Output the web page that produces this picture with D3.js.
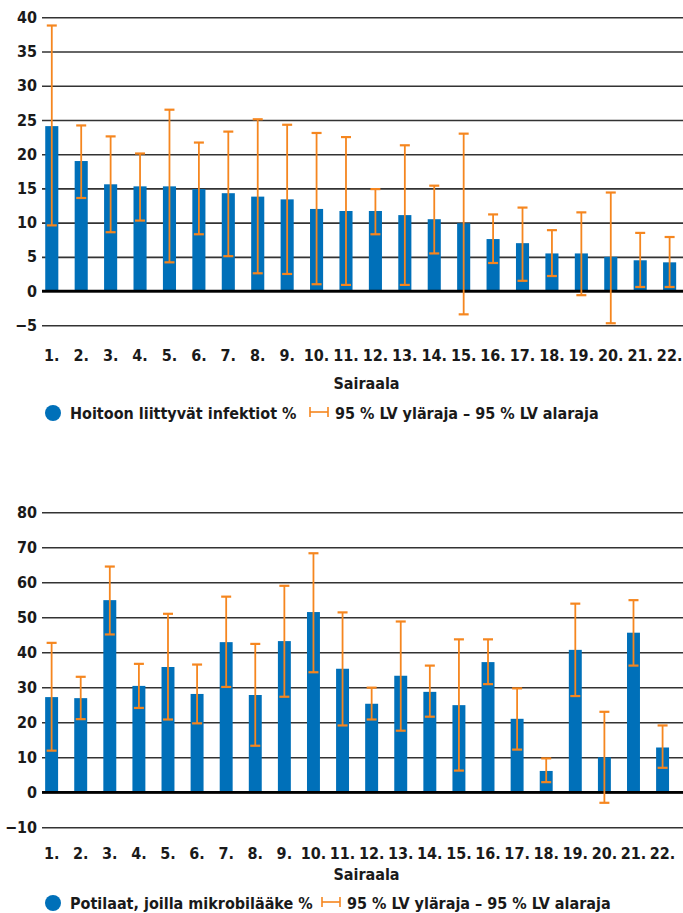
<!DOCTYPE html>
<html>
<head>
<meta charset="utf-8">
<script src="https://cdn.jsdelivr.net/npm/d3@7"></script>
<style>
	body { margin: 0; background: #fff; }
	svg text { font-family: "Liberation Sans Narrow", "Arial Narrow", "DejaVu Sans Condensed", sans-serif; font-weight: bold; font-size: 16px; fill: #1a1a1a; }
</style>
</head>
<body>
<div id="chart"></div>
<script>

// Hospitals 1.-22.
const hospitals = d3.range(1, 23).map(d => d + ".");

// Chart 1: care-associated infections %
const infectionValues = [24.1, 19.0, 15.6, 15.3, 15.3, 14.9, 14.3, 13.8, 13.4, 12.0, 11.7, 11.7, 11.1, 10.5, 9.9, 7.6, 7.0, 5.5, 5.5, 5.0, 4.5, 4.2];
const infectionUpper = [38.8, 24.2, 22.6, 20.1, 26.5, 21.7, 23.3, 25.1, 24.3, 23.1, 22.5, 14.9, 21.3, 15.4, 23.0, 11.2, 12.2, 8.9, 11.5, 14.4, 8.5, 7.9];
const infectionLower = [9.6, 13.6, 8.6, 10.3, 4.2, 8.3, 5.1, 2.6, 2.5, 1.0, 0.9, 8.3, 0.9, 5.5, -3.4, 4.1, 1.5, 2.2, -0.6, -4.7, 0.6, 0.6];
const infectionTicks = [-5, 0, 5, 10, 15, 20, 25, 30, 35, 40];

// Chart 2: patients on antimicrobials %
const antimicrobialValues = [27.2, 26.9, 54.9, 30.4, 35.8, 28.1, 42.9, 27.8, 43.2, 51.5, 35.3, 25.3, 33.3, 28.7, 24.9, 37.2, 21.0, 6.1, 40.7, 10.0, 45.6, 12.8];
const antimicrobialUpper = [42.7, 33.0, 64.5, 36.7, 51.0, 36.5, 55.9, 42.4, 59.0, 68.3, 51.4, 29.9, 48.8, 36.2, 43.7, 43.7, 29.7, 9.7, 53.9, 23.0, 54.9, 19.1];
const antimicrobialLower = [11.9, 20.9, 45.1, 24.1, 20.8, 19.7, 30.1, 13.3, 27.3, 34.3, 19.1, 20.8, 17.6, 21.6, 6.2, 30.9, 12.2, 2.9, 27.5, -3.0, 36.2, 7.0];
const antimicrobialTicks = [-10, 0, 10, 20, 30, 40, 50, 60, 70, 80];

const seriesLabels = ["Hoitoon liittyvät infektiot %", "Potilaat, joilla mikrobilääke %"];
const errorLabel = "95 % LV yläraja – 95 % LV alaraja";
const axisTitle = "Sairaala";

const blue = "#0070b9";
const orange = "#f5861f";

const svg = d3.select("#chart").append("svg")
	.attr("width", 683)
	.attr("height", 913);

function drawChart(cfg) {
	let g = svg.append("g");

	let x = d3.scaleBand()
		.domain(hospitals)
		.range([cfg.left, cfg.right])
		.paddingInner(0.555)
		.paddingOuter(0.28);

	let y = d3.scaleLinear()
		.domain(cfg.domain)
		.range([cfg.bottom, cfg.top]);

	// gridlines + y labels
	let yAxis = d3.axisLeft(y)
		.tickValues(cfg.ticks)
		.tickSize(-(683 - cfg.gridLeft))
		.tickPadding(5)
		.tickFormat(d => d < 0 ? "\u2212" + Math.abs(d) : d);

	let ga = g.append("g")
		.attr("transform", "translate(" + cfg.gridLeft + ",0)")
		.call(yAxis);
	ga.select(".domain").remove();
	ga.selectAll(".tick line")
		.attr("stroke", "#333")
		.attr("stroke-width", 1.6);
	ga.selectAll(".tick text")
		.attr("x", -5)
		.attr("fill", "#1a1a1a")
		.style("font-size", "16px");

	let data = hospitals.map((h, i) => ({h: h, v: cfg.values[i], hi: cfg.upper[i], lo: cfg.lower[i]}));

	// bars
	g.selectAll(".bar").data(data).enter().append("rect")
		.attr("class", "bar")
		.attr("x", d => x(d.h))
		.attr("width", x.bandwidth())
		.attr("y", d => y(d.v))
		.attr("height", d => y(0) - y(d.v))
		.attr("fill", blue);

	// zero line
	g.append("line")
		.attr("x1", cfg.gridLeft).attr("x2", 683)
		.attr("y1", y(0)).attr("y2", y(0))
		.attr("stroke", "#000")
		.attr("stroke-width", 2.8);

	// error bars
	let eb = g.selectAll(".err").data(data).enter().append("g")
		.attr("class", "err")
		.attr("stroke", orange)
		.attr("transform", d => "translate(" + (x(d.h) + x.bandwidth() / 2) + ",0)");
	eb.append("line")
		.attr("y1", d => y(d.hi)).attr("y2", d => y(d.lo))
		.attr("stroke-width", 1.8);
	eb.append("line")
		.attr("x1", -5).attr("x2", 5)
		.attr("y1", d => y(d.hi)).attr("y2", d => y(d.hi))
		.attr("stroke-width", 2.2);
	eb.append("line")
		.attr("x1", -5).attr("x2", 5)
		.attr("y1", d => y(d.lo)).attr("y2", d => y(d.lo))
		.attr("stroke-width", 2.2);

	// x labels
	g.selectAll(".xlab").data(hospitals).enter().append("text")
		.attr("class", "xlab")
		.attr("x", d => x(d) + x.bandwidth() / 2)
		.attr("y", cfg.labelY)
		.attr("text-anchor", "middle")
		.text(d => d);

	g.append("text")
		.attr("x", (cfg.gridLeft + 683) / 2 + 4)
		.attr("y", cfg.titleY)
		.attr("text-anchor", "middle")
		.text(axisTitle);

	// legend
	let lg = g.append("g").attr("transform", "translate(0," + cfg.legendY + ")");
	lg.append("circle")
		.attr("cx", 53).attr("cy", -6).attr("r", 8)
		.attr("fill", blue);
	lg.append("text")
		.attr("x", 70).attr("y", 0)
		.text(cfg.label);
	let ex = cfg.errX;
	lg.append("line").attr("x1", ex).attr("x2", ex + 18).attr("y1", -7).attr("y2", -7)
		.attr("stroke", orange).attr("stroke-width", 1.6);
	lg.append("line").attr("x1", ex).attr("x2", ex).attr("y1", -12).attr("y2", -2)
		.attr("stroke", orange).attr("stroke-width", 1.6);
	lg.append("line").attr("x1", ex + 18).attr("x2", ex + 18).attr("y1", -12).attr("y2", -2)
		.attr("stroke", orange).attr("stroke-width", 1.6);
	lg.append("text")
		.attr("x", ex + 25).attr("y", 0)
		.text(errorLabel);
}

drawChart({
	values: infectionValues, upper: infectionUpper, lower: infectionLower,
	ticks: infectionTicks, domain: [-5, 40],
	top: 17.3, bottom: 325.3, left: 37, right: 684.4, gridLeft: 42,
	labelY: 361, titleY: 389, legendY: 419,
	label: seriesLabels[0], errX: 310
});

drawChart({
	values: antimicrobialValues, upper: antimicrobialUpper, lower: antimicrobialLower,
	ticks: antimicrobialTicks, domain: [-10, 80],
	top: 512.3, bottom: 827.3, left: 37, right: 677.2, gridLeft: 42,
	labelY: 859, titleY: 880, legendY: 909,
	label: seriesLabels[1], errX: 322
});

</script>
</body>
</html>
